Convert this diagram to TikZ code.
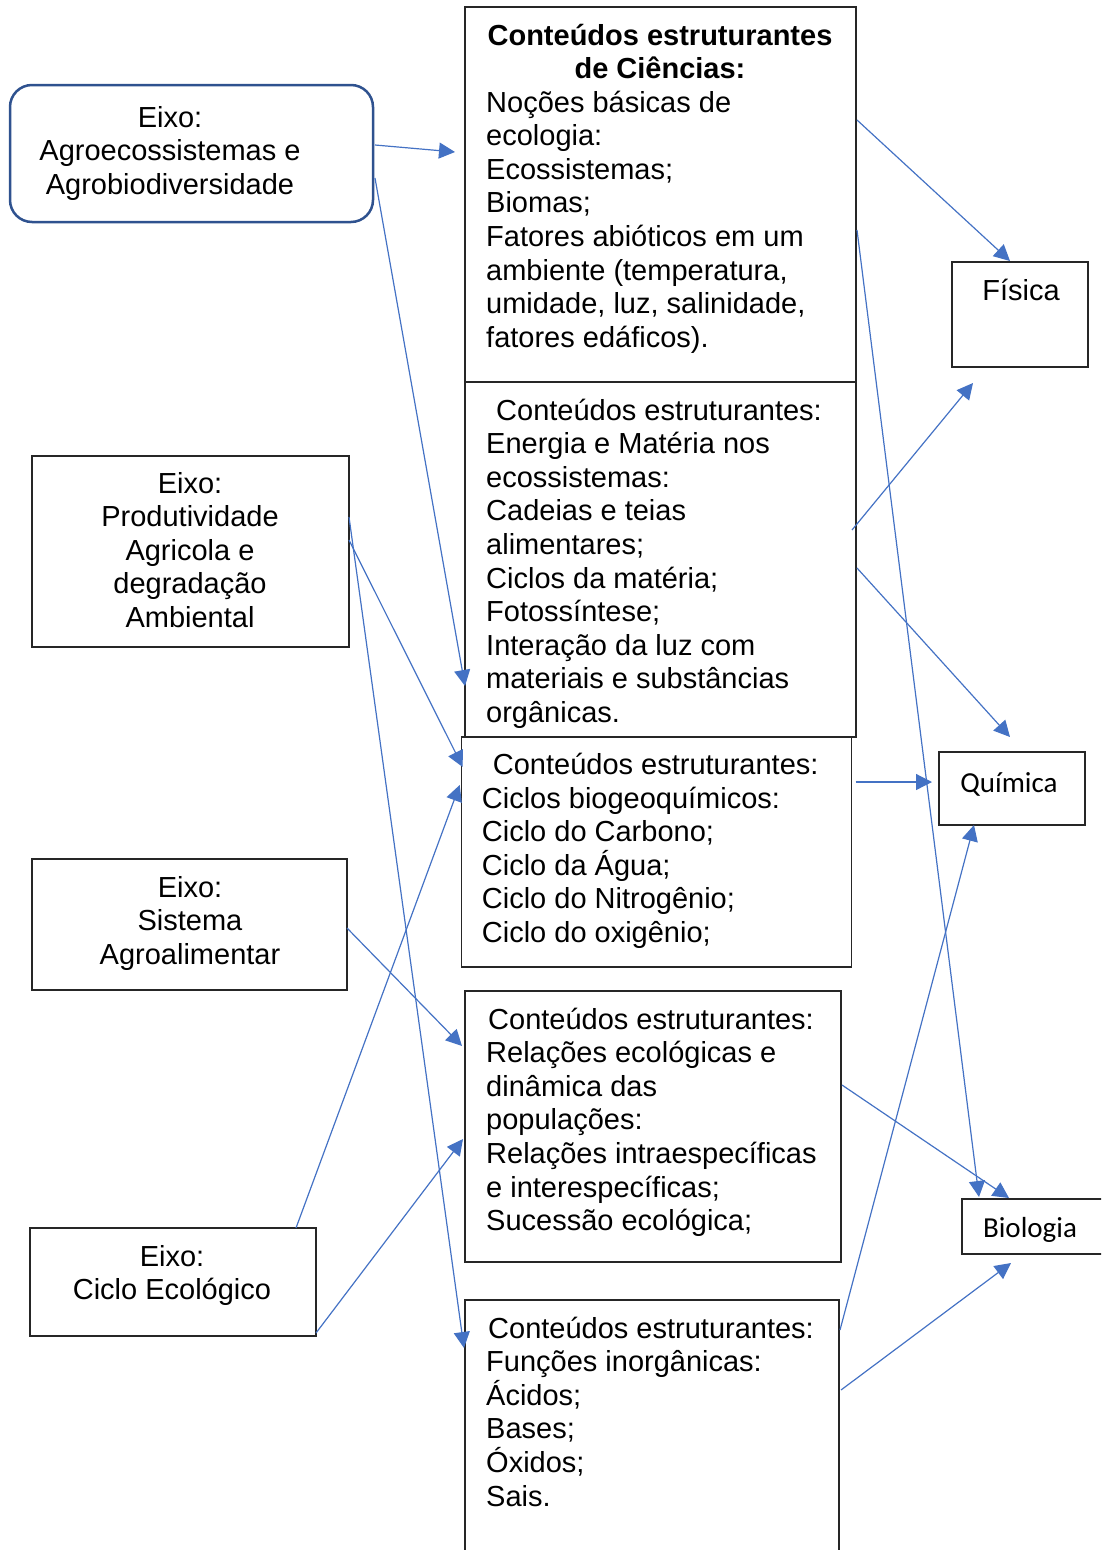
\documentclass[tikz,border=0pt]{standalone}
\usepackage{fontspec}
\usepackage{tikz}
\usetikzlibrary{arrows.meta}
\newfontfamily\arialfont{Liberation Sans}
\newfontfamily\calibrifont{Carlito}
\definecolor{setaazul}{HTML}{4472C4}
\definecolor{bordaazul}{HTML}{2F528F}

\begin{document}
\begin{tikzpicture}[x=1pt,y=-1pt,
		caixa/.style={draw=black!85,line width=1.4pt,inner sep=0pt,outer sep=0pt,anchor=north west},
		texto/.style={font=\arialfont\fontsize{29}{33.6}\selectfont,inner sep=0pt},
		eixo/.style={texto,align=center,anchor=base},
		lista/.style={texto,align=left,anchor=base west},
		seta/.style={setaazul,line width=1.2pt,-{Triangle[length=16pt,width=16pt]}}]
		\useasboundingbox (0,0) rectangle (1101,1550);
		\clip (0,0) rectangle (1101,1550);
		\node[caixa,draw=bordaazul,line width=2.5pt,rounded corners=22pt,minimum width=363pt,minimum height=137pt] (agro) at (10,85) {};
		\node[caixa,minimum width=317pt,minimum height=191pt] (prod) at (32,456) {};
		\node[caixa,minimum width=315pt,minimum height=131pt] (sist) at (32,859) {};
		\node[caixa,minimum width=286pt,minimum height=108pt] (ciclo) at (30,1228) {};
		\node[caixa,minimum width=391pt,minimum height=375pt] (b1) at (465,7) {};
		\node[caixa,minimum width=391pt,minimum height=355pt] (b2) at (465,382) {};
		\node[caixa,minimum width=390pt,minimum height=230pt] (b3) at (461.7,737) {};
		\node[caixa,minimum width=376pt,minimum height=271pt] (b4) at (465,991) {};
		\node[caixa,minimum width=374pt,minimum height=320pt] (b5) at (465,1300) {};
		\node[caixa,minimum width=136pt,minimum height=105pt] (fis) at (952,262) {};
		\node[caixa,minimum width=146pt,minimum height=73pt] (qui) at (939,752) {};
		\node[caixa,minimum width=160pt,minimum height=55pt] (bio) at (962,1199) {};
		
		\node[eixo] (agrotxt) at (170,194.2) {Eixo:\\Agroecossistemas e\\Agrobiodiversidade};
		\node[eixo] (prodtxt) at (190,627.4) {Eixo:\\Produtividade\\Agricola e\\degradação\\Ambiental};
		\node[eixo] (sisttxt) at (190,964.2) {Eixo:\\Sistema\\Agroalimentar};
		\node[eixo] (ciclotxt) at (172,1299.6) {Eixo:\\Ciclo Ecológico};
		\node[eixo,font=\arialfont\bfseries\fontsize{29}{33.6}\selectfont] (b1tit) at (660,78.6) {Conteúdos estruturantes\\de Ciências:};
		\node[lista] (b1txt) at (486,347.2) {Noções básicas de\\ecologia:\\Ecossistemas;\\Biomas;\\Fatores abióticos em um\\ambiente (temperatura,\\umidade, luz, salinidade,\\fatores edáficos).};
		\node[lista] (b2txt) at (486,722.4) {\hspace*{10pt}Conteúdos estruturantes:\\Energia e Matéria nos\\ecossistemas:\\Cadeias e teias\\alimentares;\\Ciclos da matéria;\\Fotossíntese;\\Interação da luz com\\materiais e substâncias\\orgânicas.};
		\node[lista] (b3txt) at (481.7,942.5) {\hspace*{11pt}Conteúdos estruturantes:\\Ciclos biogeoquímicos:\\Ciclo do Carbono;\\Ciclo da Água;\\Ciclo do Nitrogênio;\\Ciclo do oxigênio;};
		\node[lista] (b4txt) at (486,1230.6) {\hspace*{2pt}Conteúdos estruturantes:\\Relações ecológicas e\\dinâmica das\\populações:\\Relações intraespecíficas\\e interespecíficas;\\Sucessão ecológica;};
		\node[lista] (b5txt) at (486,1506) {\hspace*{2pt}Conteúdos estruturantes:\\Funções inorgânicas:\\Ácidos;\\Bases;\\Óxidos;\\Sais.};
		\node[texto,anchor=base] (fistxt) at (1021,300) {Física};
		\node[texto,font=\calibrifont\fontsize{29}{34}\selectfont,anchor=base] (quitxt) at (1009,792) {Química};
		\node[texto,font=\calibrifont\fontsize{29}{34}\selectfont,anchor=base] (biotxt) at (1030,1237) {Biologia};
		
		\draw[seta] ([xshift=2pt,yshift=-60pt]agro.north east) -- ([xshift=-10pt,yshift=-145pt]b1.north west);
		\draw[seta] ([xshift=2pt,yshift=-93pt]agro.north east) -- ([yshift=-304pt]b2.north west);
		\draw[seta] ([yshift=-61pt]prod.north east) -- ([xshift=-1pt,yshift=-48pt]b5.north west);
		\draw[seta] ([yshift=-84pt]prod.north east) -- ([xshift=1pt,yshift=-30pt]b3.north west);
		\draw[seta] ([yshift=-69pt]sist.north east) -- ([xshift=-3pt,yshift=-55pt]b4.north west);
		\draw[seta] ([xshift=-20pt]ciclo.north east) -- ([xshift=-2pt,yshift=-48pt]b3.north west);
		\draw[seta] ([yshift=-105pt]ciclo.north east) -- ([xshift=-2pt,yshift=-148pt]b4.north west);
		\draw[seta] ([xshift=1pt,yshift=-113pt]b1.north east) -- ([xshift=58pt,yshift=1pt]fis.north west);
		\draw[seta] ([xshift=1pt,yshift=-223pt]b1.north east) -- ([xshift=17pt,yshift=2pt]bio.north west);
		\draw[seta] ([xshift=-4pt,yshift=-148pt]b2.north east) -- ([xshift=21pt,yshift=-16pt]fis.south west);
		\draw[seta] ([xshift=1pt,yshift=-186pt]b2.north east) -- ([xshift=71pt,yshift=15pt]qui.north west);
		\draw[seta] ([xshift=4pt,yshift=-45pt]b3.north east) -- ([xshift=-7pt,yshift=-30pt]qui.north west);
		\draw[seta] ([xshift=1pt,yshift=-94pt]b4.north east) -- ([xshift=47pt,yshift=1pt]bio.north west);
		\draw[seta] ([xshift=1pt,yshift=-30pt]b5.north east) -- ([xshift=35pt]qui.south west);
		\draw[seta] ([xshift=2pt,yshift=-90pt]b5.north east) -- ([xshift=49pt,yshift=-9pt]bio.south west);
	\end{tikzpicture}
\end{document}
